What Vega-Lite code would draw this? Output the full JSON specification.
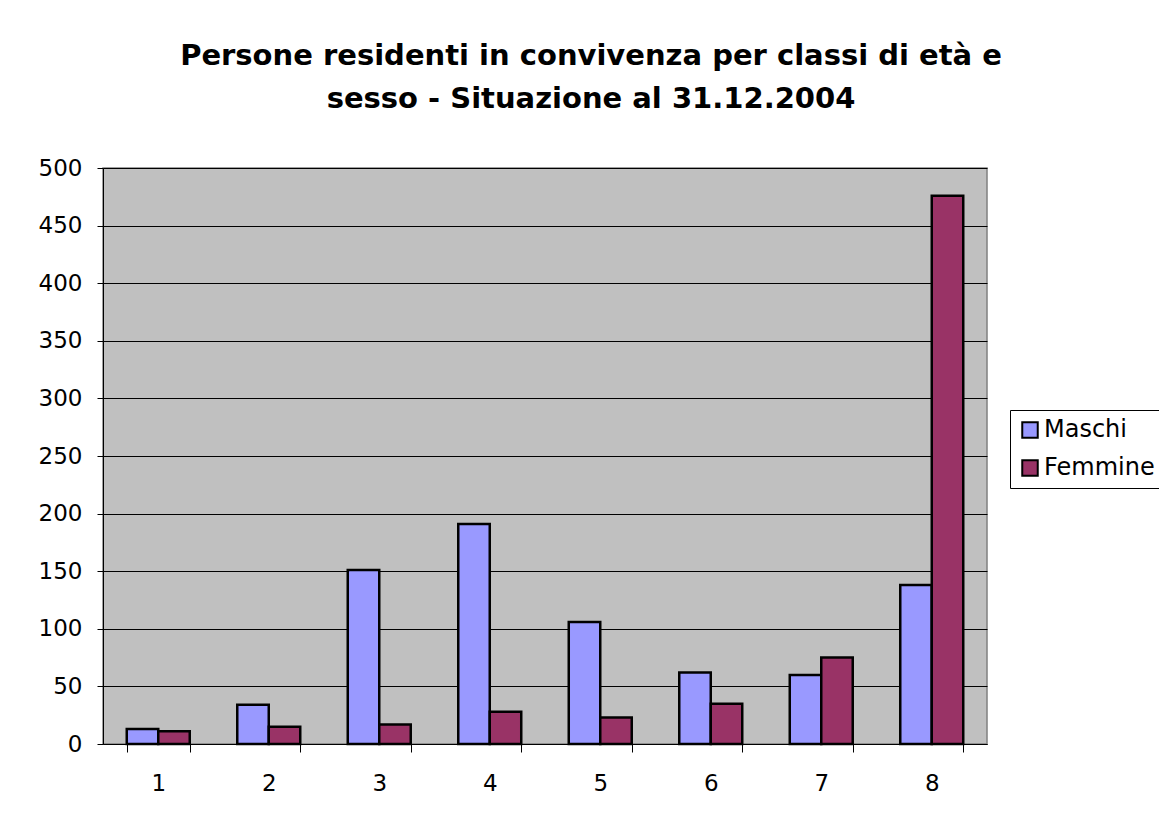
{
  "$schema": "https://vega.github.io/schema/vega-lite/v6.json",
  "autosize": "none",
  "width": 884,
  "height": 576,
  "padding": {"left": 103, "top": 168, "right": 172, "bottom": 75},
  "background": "white",
  "title": {
    "text": ["Persone residenti in convivenza per classi di età e", "sesso - Situazione al 31.12.2004"],
    "font": "DejaVu Sans",
    "fontSize": 29,
    "fontWeight": "bold",
    "color": "black",
    "anchor": "middle",
    "dx": 46,
    "offset": 43,
    "lineHeight": 43
  },
  "data": {
    "values": [
      {"classe": "1", "sesso": "Maschi", "valore": 13},
      {"classe": "1", "sesso": "Femmine", "valore": 11},
      {"classe": "2", "sesso": "Maschi", "valore": 34},
      {"classe": "2", "sesso": "Femmine", "valore": 15},
      {"classe": "3", "sesso": "Maschi", "valore": 151},
      {"classe": "3", "sesso": "Femmine", "valore": 17},
      {"classe": "4", "sesso": "Maschi", "valore": 191},
      {"classe": "4", "sesso": "Femmine", "valore": 28},
      {"classe": "5", "sesso": "Maschi", "valore": 106},
      {"classe": "5", "sesso": "Femmine", "valore": 23},
      {"classe": "6", "sesso": "Maschi", "valore": 62},
      {"classe": "6", "sesso": "Femmine", "valore": 35},
      {"classe": "7", "sesso": "Maschi", "valore": 60},
      {"classe": "7", "sesso": "Femmine", "valore": 75},
      {"classe": "8", "sesso": "Maschi", "valore": 138},
      {"classe": "8", "sesso": "Femmine", "valore": 476}
    ]
  },
  "mark": {"type": "bar", "stroke": "black", "strokeWidth": 2.5},
  "encoding": {
    "x": {
      "field": "classe",
      "type": "nominal",
      "scale": {"paddingInner": 0.43, "paddingOuter": 0.215},
      "axis": {
        "title": null,
        "labelAngle": 0,
        "labelFont": "DejaVu Sans",
        "labelFontSize": 23,
        "labelColor": "black",
        "labelPadding": 20,
        "domainColor": "black",
        "domainWidth": 1,
        "tickColor": "black",
        "tickSize": 8,
        "tickBand": "extent",
        "grid": false
      }
    },
    "xOffset": {"field": "sesso", "type": "nominal", "sort": ["Maschi", "Femmine"], "scale": {"paddingInner": 0, "paddingOuter": 0}},
    "y": {
      "field": "valore",
      "type": "quantitative",
      "scale": {"domain": [0, 500], "nice": false},
      "axis": {
        "title": null,
        "values": [0, 50, 100, 150, 200, 250, 300, 350, 400, 450, 500],
        "labelFont": "DejaVu Sans",
        "labelFontSize": 23,
        "labelColor": "black",
        "labelPadding": 15,
        "domainColor": "black",
        "domainWidth": 1,
        "tickColor": "black",
        "tickSize": 6,
        "grid": true,
        "gridColor": "black",
        "gridWidth": 1,
        "gridOpacity": 1
      }
    },
    "color": {
      "field": "sesso",
      "type": "nominal",
      "sort": ["Maschi", "Femmine"],
      "scale": {"domain": ["Maschi", "Femmine"], "range": ["#9999FF", "#993366"]},
      "legend": {
        "title": null,
        "orient": "none",
        "legendX": 907,
        "legendY": 242,
        "symbolType": "square",
        "symbolSize": 240,
        "symbolStrokeColor": "black",
        "symbolStrokeWidth": 2,
        "symbolOpacity": 1,
        "labelFont": "DejaVu Sans",
        "labelFontSize": 24,
        "labelColor": "black",
        "labelOffset": 2,
        "rowPadding": 14,
        "strokeColor": "black",
        "padding": 8,
        "fillColor": "white"
      }
    }
  },
  "config": {
    "view": {"fill": "#C0C0C0", "stroke": "#808080", "strokeWidth": 1.5}
  }
}
